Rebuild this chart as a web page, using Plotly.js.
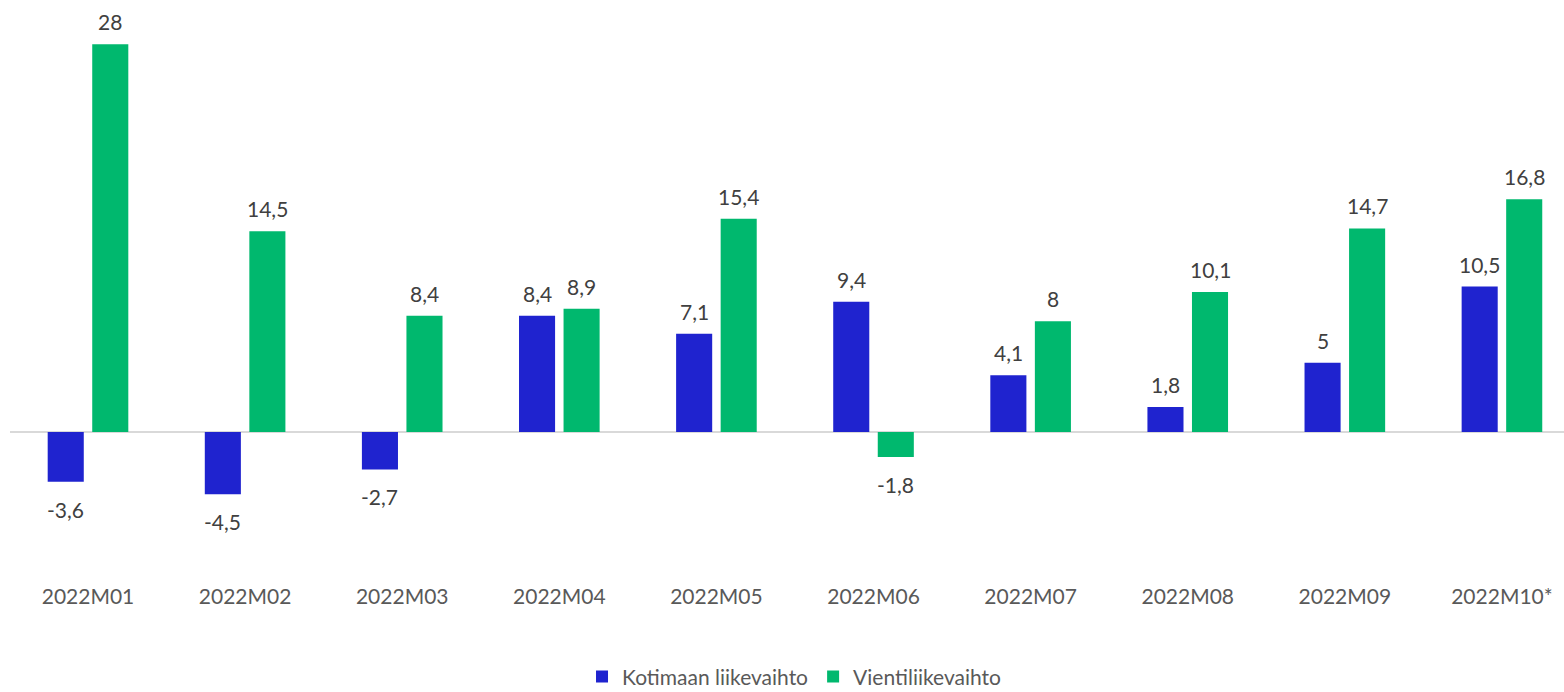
<!DOCTYPE html>
<html>
<head>
<meta charset="utf-8">
<script src="https://cdn.plot.ly/plotly-3.0.1.min.js"></script>
<style>html,body{margin:0;padding:0;background:#fff;}#chart{width:1564px;height:692px;}</style>
</head>
<body>
<div id="chart"></div>
<script>
const categories = ['2022M01','2022M02','2022M03','2022M04','2022M05','2022M06','2022M07','2022M08','2022M09','2022M10*'];
const kotimaan = [-3.6, -4.5, -2.7, 8.4, 7.1, 9.4, 4.1, 1.8, 5, 10.5];
const vienti = [28, 14.5, 8.4, 8.9, 15.4, -1.8, 8, 10.1, 14.7, 16.8];
const seriesNames = ['Kotimaan liikevaihto', 'Vientiliikevaihto'];
const colors = ['#1F23CF', '#00B86E'];

const FONT = 'Lato, "Open Sans", sans-serif';
const fmt = v => String(v).replace('.', ',');

const traces = [kotimaan, vienti].map((vals, i) => ({
  type: 'bar', name: seriesNames[i], x: categories, y: vals,
  marker: {color: colors[i]}, hoverinfo: 'x+y'
}));

const annotations = [];
[kotimaan, vienti].forEach((vals, i) => {
  vals.forEach((v, j) => {
    annotations.push({
      x: categories[j], y: v, xref: 'x', yref: 'y',
      text: fmt(v), showarrow: false,
      xshift: i === 0 ? -22.3 : 22.3,
      yanchor: v >= 0 ? 'bottom' : 'top',
      yshift: v >= 0 ? 8 : -13,
      font: {family: FONT, size: 21, color: '#404040'}
    });
  });
});

const layout = {
  width: 1564, height: 692,
  margin: {l: 10, r: 0, t: 10, b: 110},
  paper_bgcolor: '#fff', plot_bgcolor: '#fff',
  barmode: 'group', bargap: 0.433, bargroupgap: 0.19,
  xaxis: {
    type: 'category', range: [-0.4965, 9.395],
    showgrid: false, showline: false, ticks: '', zeroline: false,
    tickfont: {family: FONT, size: 21, color: '#595959'}
  },
  yaxis: {
    range: [-10.83, 30.47], showgrid: false, showticklabels: false,
    zeroline: true, zerolinecolor: '#D9D9D9', zerolinewidth: 1.5, ticks: ''
  },
  showlegend: true,
  legend: {
    orientation: 'h', xref: 'container', yref: 'container',
    x: 0.508, xanchor: 'center', y: 0.022, yanchor: 'middle',
    font: {family: FONT, size: 21, color: '#595959'},
    itemwidth: 30
  },
  annotations: annotations
};

Plotly.newPlot('chart', traces, layout, {displayModeBar: false, staticPlot: true});
</script>
</body>
</html>
